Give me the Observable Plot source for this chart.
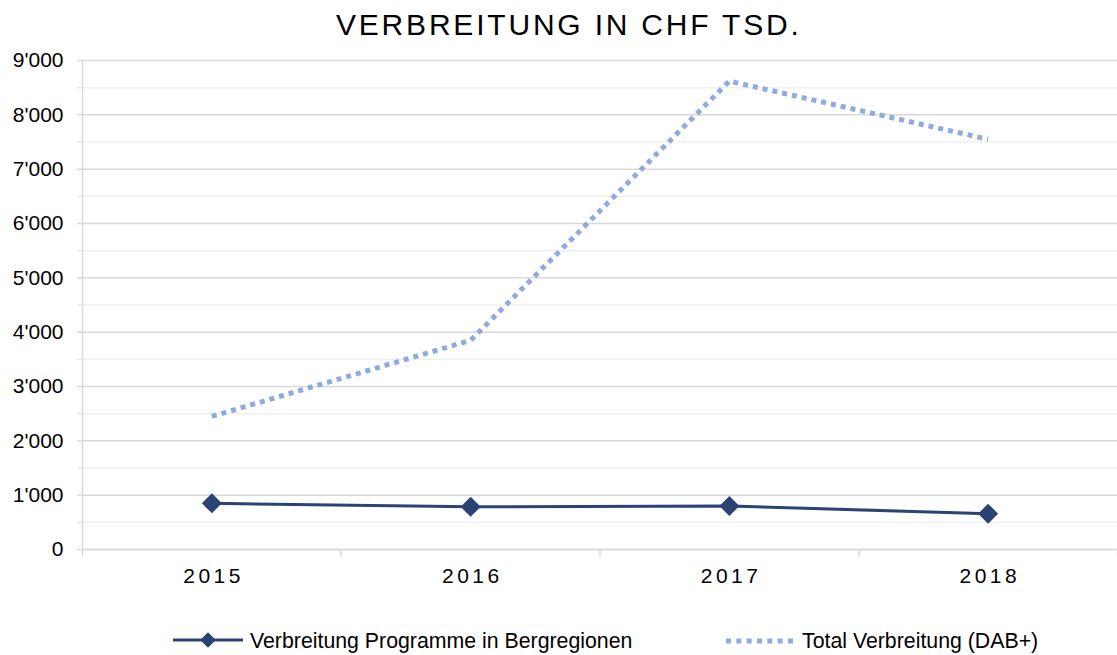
<!DOCTYPE html>
<html>
<head>
<meta charset="utf-8">
<script src="https://cdn.jsdelivr.net/npm/d3@7"></script>
<script src="https://cdn.jsdelivr.net/npm/@observablehq/plot@0.6"></script>
<style>
  html, body { margin: 0; padding: 0; background: #fff; }
  body { width: 1117px; height: 655px; position: relative; overflow: hidden;
         font-family: "Liberation Sans", Arial, sans-serif; color: #000; }
  #title { position: absolute; left: 336px; top: 10px; font-size: 30px; line-height: 30px;
           letter-spacing: 2.8px; white-space: nowrap; color: #000; }
  #chart { position: absolute; left: 0; top: 0; }
  .leg-swatch { position: absolute; }
  .leg-text { position: absolute; font-size: 21.3px; line-height: 21px; white-space: nowrap; color: #000; }
</style>
</head>
<body>
<div id="chart"></div>
<div id="title"></div>
<div id="legend"></div>
<script>
// ---- data ----
const title = "VERBREITUNG IN CHF TSD.";
const years = [2015, 2016, 2017, 2018];
const bergregionen = [850, 785, 800, 660];
const totalDab = [2450, 3850, 8620, 7550];
const seriesNames = ["Verbreitung Programme in Bergregionen", "Total Verbreitung (DAB+)"];
const seriesColors = ["#2a4374", "#8faadc"];
const yMajorTicks = [0, 1000, 2000, 3000, 4000, 5000, 6000, 7000, 8000, 9000];
const yMinorTicks = [500, 1500, 2500, 3500, 4500, 5500, 6500, 7500, 8500];

// ---- derived ----
const rowsBerg = years.map((year, i) => ({year, value: bergregionen[i]}));
const rowsTotal = years.map((year, i) => ({year, value: totalDab[i]}));
const xDomain = [years[0] - 0.5, years[years.length - 1] + 0.5];
const boundaries = years.map(y => y - 0.5).concat([years[years.length - 1] + 0.5]);
const fmt = d => d === 0 ? "0" : d3.format(",")(d).replace(/,/g, "'");
const gridC = "#d9d9d9";

document.getElementById("title").textContent = title;

const chart = Plot.plot({
  width: 1117,
  height: 600,
  marginLeft: 82,
  marginRight: 0,
  marginTop: 60,
  marginBottom: 51,
  x: {domain: xDomain},
  y: {domain: [0, 9000]},
  style: {fontFamily: "'Liberation Sans', Arial, sans-serif", fontSize: "21px", color: "#000", background: "transparent", overflow: "visible"},
  marks: [
    Plot.gridY(yMinorTicks, {stroke: "#efefef", strokeOpacity: 1, strokeWidth: 1.5}),
    Plot.gridY(yMajorTicks, {stroke: gridC, strokeOpacity: 1, strokeWidth: 1.5}),
    Plot.axisY(yMinorTicks, {tickSize: 5, tickFormat: () => "", stroke: "#e6e6e6", strokeWidth: 1.5, label: null}),
    Plot.axisY(yMajorTicks, {tickSize: 5, tickPadding: 14, tickFormat: fmt, stroke: gridC, strokeWidth: 1.5, fill: "#000", label: null}),
    Plot.ruleX([xDomain[0]], {stroke: gridC, strokeWidth: 1.5}),
    Plot.ruleY([0], {stroke: gridC, strokeWidth: 1.5}),
    Plot.axisX(boundaries, {tickSize: 7, tickFormat: () => "", stroke: gridC, strokeWidth: 1.5, label: null}),
    Plot.axisX(years, {tickSize: 0, tickPadding: 19, tickFormat: d => String(d), fill: "#000", label: null}),
    Plot.line(rowsTotal, {x: "year", y: "value", stroke: seriesColors[1], strokeWidth: 5, strokeDasharray: "5 5", strokeLinecap: "butt"}),
    Plot.line(rowsBerg, {x: "year", y: "value", stroke: seriesColors[0], strokeWidth: 3}),
    Plot.dot(rowsBerg, {x: "year", y: "value", symbol: "diamond2", r: 9, fill: seriesColors[0], stroke: null})
  ]
});
document.getElementById("chart").appendChild(chart);

// letter spacing for x tick labels
chart.querySelectorAll('g[aria-label="x-axis tick label"] text').forEach(t => {
  t.setAttribute("letter-spacing", "3.5");
  t.setAttribute("dx", "1.75");
});

// ---- legend ----
const legend = document.getElementById("legend");
const ns = "http://www.w3.org/2000/svg";
function swatch(left, top, w, h, build) {
  const s = document.createElementNS(ns, "svg");
  s.setAttribute("width", w); s.setAttribute("height", h);
  s.setAttribute("class", "leg-swatch");
  s.style.left = left + "px"; s.style.top = top + "px";
  build(s);
  legend.appendChild(s);
}
function el(tag, attrs) {
  const e = document.createElementNS(ns, tag);
  for (const k in attrs) e.setAttribute(k, attrs[k]);
  return e;
}
swatch(173, 630, 70, 20, s => {
  s.appendChild(el("line", {x1: 0, x2: 70, y1: 10, y2: 10, stroke: seriesColors[0], "stroke-width": 3}));
  const sym = d3.symbol(d3.symbolDiamond2, Math.PI * 7 * 7)();
  s.appendChild(el("path", {d: sym, transform: "translate(35,10)", fill: seriesColors[0]}));
});
swatch(726, 631, 67, 20, s => {
  s.appendChild(el("line", {x1: 0, x2: 67, y1: 10, y2: 10, stroke: seriesColors[1], "stroke-width": 5, "stroke-dasharray": "5 5.33"}));
});
[[250, seriesNames[0]], [802, seriesNames[1]]].forEach(([left, txt]) => {
  const d = document.createElement("div");
  d.className = "leg-text";
  d.style.left = left + "px"; d.style.top = "631px";
  d.textContent = txt;
  legend.appendChild(d);
});
</script>
</body>
</html>
